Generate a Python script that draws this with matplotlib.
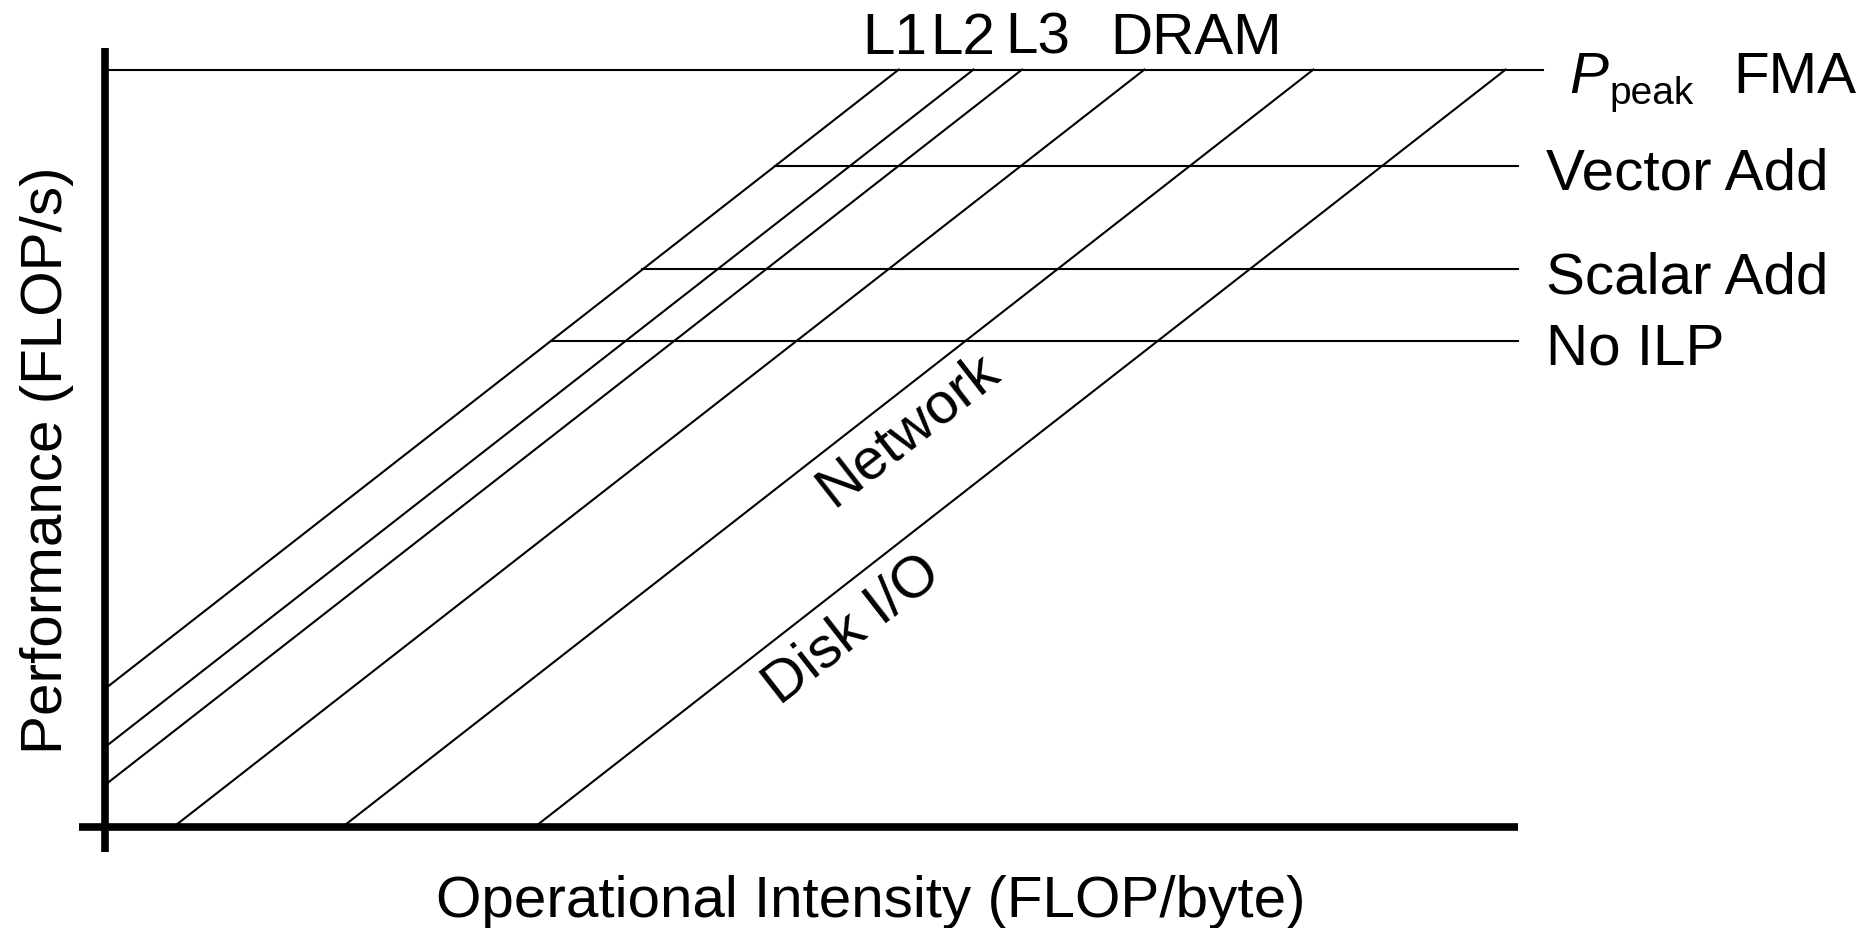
import matplotlib
matplotlib.use("Agg")
import matplotlib.pyplot as plt
import numpy as np

plt.rcParams['font.family'] = ['Liberation Sans', 'DejaVu Sans']

# roofline in log units (arbitrary base): y = x + log(bandwidth), capped by compute ceilings
levels = ['L1', 'L2', 'L3', 'DRAM', 'Network', 'Disk I/O']
log_bw = [1.83, 1.06, 0.56, -0.70, -2.44, -4.42]
ceil_names = ['Vector Add', 'Scalar Add', 'No ILP']
ceil_vals = [8.73, 7.36, 6.42]
peak = 10.0
x_right = 14.55

fig = plt.figure(figsize=(18.67, 9.29), dpi=100)
ax = fig.add_axes([0, 0, 1, 1])
ax.set_xlim(-1.0865, 18.141)
ax.set_ylim(-1.3333, 10.931)
ax.axis('off')

lw = 1.5
fs = 42

# axes
ax.plot([0, 0], [-0.33, 10.28], color='k', lw=5.5, solid_capstyle='butt')
ax.plot([-0.276, x_right], [0, 0], color='k', lw=5.5, solid_capstyle='butt')

# peak
ax.plot([0, 14.8], [peak, peak], color='k', lw=lw)

# bandwidth lines
for b in log_bw:
    xs = max(0, -b)
    ax.plot([xs, peak - b], [xs + b, peak], color='k', lw=lw)

# ceilings start on the L1 diagonal
for c in ceil_vals:
    ax.plot([c - log_bw[0], x_right], [c, c], color='k', lw=lw)

# top labels
top_x = [8.13, 8.83, 9.60, 11.23]
for name, x in zip(levels[:4], top_x):
    ax.text(x, 10.22, name, ha='center', va='baseline', fontsize=fs)

# right labels
ax.text(15.07, peak - 0.30, 'P', style='italic', ha='left', va='baseline', fontsize=fs)
ax.text(15.49, peak - 0.44, 'peak', ha='left', va='baseline', fontsize=28)
ax.text(16.76, peak - 0.30, 'FMA', ha='left', va='baseline', fontsize=fs)
for name, c in zip(ceil_names, ceil_vals):
    ax.text(14.83, c - 0.30, name, ha='left', va='baseline', fontsize=fs)

# slanted labels
ang = np.degrees(np.arctan(0.78))
ax.text(8.27, 5.26, levels[4], rotation=ang, rotation_mode='anchor',
        ha='center', va='center', fontsize=fs)
ax.text(7.69, 2.62, levels[5], rotation=ang, rotation_mode='anchor',
        ha='center', va='center', fontsize=fs)

# axis titles
ax.text(7.88, -1.172, 'Operational Intensity (FLOP/byte)', ha='center', va='baseline', fontsize=fs)
ax.text(-0.448, 4.86, 'Performance (FLOP/s)', rotation=90, rotation_mode='anchor',
        ha='center', va='baseline', fontsize=fs)

fig.savefig('out.png', dpi=100)
